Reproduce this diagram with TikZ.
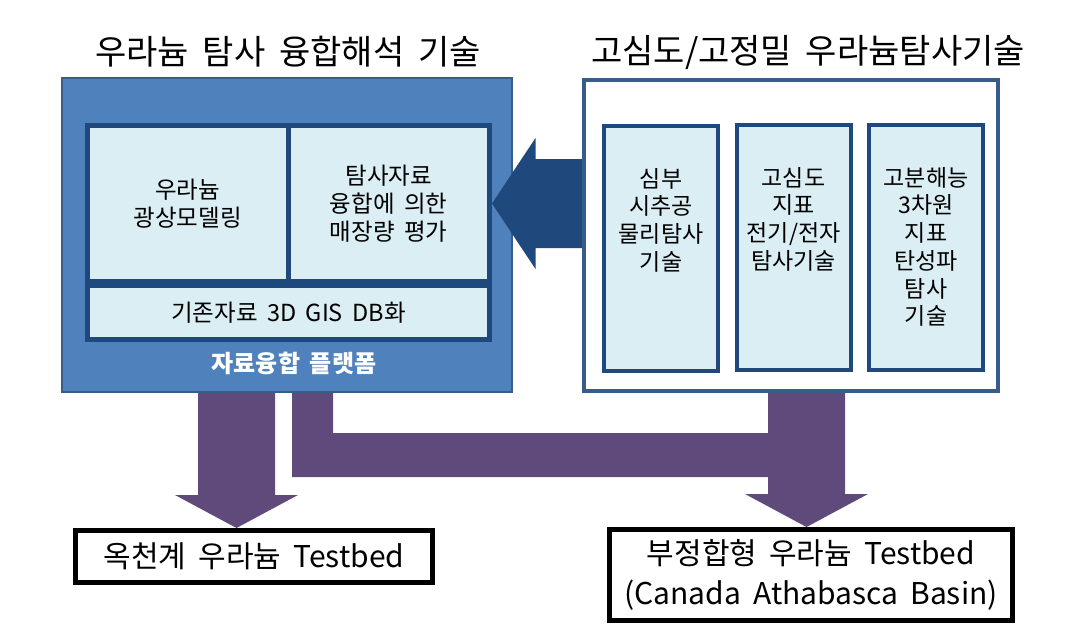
\documentclass[tikz,border=0pt]{standalone}
\usepackage{fontspec}
\setmainfont{Noto Sans CJK KR}[WordSpace=1.8]
\usetikzlibrary{calc,backgrounds,positioning}
\definecolor{navy}{HTML}{1F497D}
\definecolor{steel}{HTML}{4F81BD}
\definecolor{steeldk}{HTML}{385D8A}
\definecolor{pale}{HTML}{DBEEF4}
\definecolor{purp}{HTML}{604A7B}
% purple block arrow: #1 top of shaft, #2 tip
\newcommand{\purpdown}[2]{\fill[purp] ($(#1)+(-38.5,0)$) -- ($(#2)+(-38.5,-33)$) -- ($(#2)+(-61.5,-33)$)
  -- (#2) -- ($(#2)+(61.5,-33)$) -- ($(#2)+(38.5,-33)$) -- ($(#1)+(38.5,0)$) -- cycle;}

\begin{document}
\begin{tikzpicture}[x=1pt,y=-1pt,
  ttl/.style={font=\fontsize{34}{40}\selectfont},
  cell/.style={draw=navy,fill=pale,line width=5pt,inner sep=0pt,align=center,font=\fontsize{23.5}{28}\selectfont},
  col/.style={draw=navy,fill=pale,line width=4pt,minimum width=114pt,minimum height=245pt},
  coltxt/.style={anchor=north,align=center,inner sep=0pt,font=\fontsize{23}{27.7}\selectfont},
  tbed/.style={draw=black,fill=white,line width=5pt,inner sep=0pt,align=center,font=\fontsize{30}{40}\selectfont}]
  \useasboundingbox (0,0) rectangle (1070,632);

  % titles
  \node[ttl] (T1) at (288,52) {우라늄 탐사 융합해석 기술};
  \node[ttl] (T2) at (808,52) {고심도/고정밀 우라늄탐사기술};

  % left block
  \node[draw=steeldk,fill=steel,line width=2pt,minimum width=450pt,minimum height=314pt] (L) at (287,235) {};
  \node[cell,minimum width=200.5pt,minimum height=156pt] (LA) at (187.75,203.5) {우라늄\\광상모델링};
  \node[cell,minimum width=201.5pt,minimum height=156pt] (LB) at (388.75,203.5) {탐사자료\\융합에 의한\\매장량 평가};
  \node[cell,minimum width=402pt,minimum height=54pt] (LC) at (288.5,312.5) {기존자료 3D GIS DB화};
  \node[text=white,font=\bfseries\fontsize{24}{28}\selectfont] (LD) at (294,363) {자료융합 플랫폼};

  % right block
  \node[draw=steeldk,fill=white,line width=4pt,minimum width=414pt,minimum height=311pt] (R) at (791,235.5) {};
  \node[col] (R1) at (661,248.5) {};
  \node[col] (R2) at (793.5,247.5) {};
  \node[col] (R3) at (926,247.5) {};
  \node[coltxt,below=44pt of R1.north] (R1t) {심부\\시추공\\물리탐사\\기술};
  \node[coltxt,below=44pt of R2.north] (R2t) {고심도\\지표\\전기/전자\\탐사기술};
  \node[coltxt,below=44pt of R3.north] (R3t) {고분해능\\3차원\\지표\\탄성파\\탐사\\기술};

  % testbeds
  \node[tbed,minimum width=357pt,minimum height=52pt] (B1) at (254,556.5) {옥천계 우라늄 Testbed};
  \node[tbed,minimum width=403pt,minimum height=91pt] (B2) at (811,575) {부정합형 우라늄 Testbed\\(Canada Athabasca Basin)};

  % navy arrow R -> LB
  \fill[navy] (LB.east) -- ++(43.5,-65.5) -- ++(0,21) -- ($(R.west |- LB.east)+(0,-44.5)$)
    -- ++(0,89) -- ($(LB.east)+(43.5,44.5)$) -- ++(0,21) -- cycle;

  % purple arrows
  \coordinate (p1) at (236.5,0);
  \coordinate (p2) at (806.5,0);
  \coordinate (p3) at (312.5,455);
  \begin{scope}[on background layer]
    \purpdown{p1 |- L.south}{p1 |- B1.north}
    \purpdown{p2 |- R.south}{p2 |- B2.north}
    \fill[purp] ($(p3 |- L.south)+(-20.5,0)$) -- ($(p3)+(-20.5,22)$) -- ($(p2 |- p3)+(0,22)$)
      -- ($(p2 |- p3)+(0,-22)$) -- ($(p3)+(20.5,-22)$) -- ($(p3 |- L.south)+(20.5,0)$) -- cycle;
  \end{scope}
\end{tikzpicture}
\end{document}
